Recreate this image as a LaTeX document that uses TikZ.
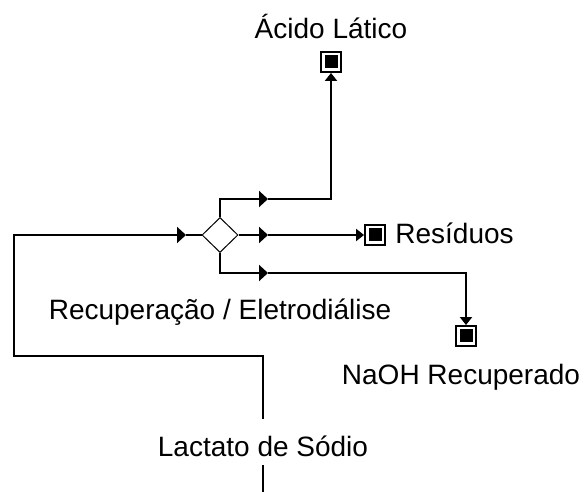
\documentclass[tikz,border=0pt]{standalone}
\usepackage{fontspec}
\setmainfont{Liberation Sans}
\usetikzlibrary{shapes.geometric,arrows.meta}
\begin{document}
\begin{tikzpicture}[
	x=0.5pt, y=-0.5pt,
	font=\fontsize{14pt}{16pt}\selectfont,
	stream/.style={ line width=1pt },
	midtip/.style={ stream, -{Triangle[length=4.5pt,width=8pt]} },
	endtip/.style={ stream, shorten >=1.6pt, -{Triangle[length=4pt,width=6pt]} },
	mixer/.style={ diamond, draw, line width=0.5pt, inner sep=0pt, minimum width=18pt, minimum height=17.5pt },
	sink/.style={ rectangle, draw, fill, line width=1pt, double=white, double distance=1.25pt, inner sep=0pt, outer sep=0pt, minimum size=7.75pt }
]
\useasboundingbox (0,0) rectangle (585,492);

\node at (220,235) (mix) [mixer] {};
\node at (331,62) (acid) [sink] {};
\node at (331,39) (acidlabel) [anchor=base] {Ácido Lático};
\node at (375,235) (waste) [sink] {};
\node at (395,244) (wastelabel) [anchor=base west, inner sep=0pt] {Resíduos};
\node at (466,336) (naoh) [sink] {};
\node at (461,385) (naohlabel) [anchor=base] {NaOH Recuperado};
\node at (220,320) (unitlabel) [anchor=base] {Recuperação / Eletrodiálise};
\node at (263,457) (feedlabel) [anchor=base, inner sep=0pt, text height=19pt, text depth=4pt] {Lactato de Sódio};

\coordinate (feed) at (263,492);
\coordinate (loop) at (14,356);
\coordinate (inlet) at (186,235);
\coordinate (top) at (268,199);
\coordinate (mid) at (268,235);
\coordinate (bot) at (268,273);

\draw[stream] (feed) to (feedlabel.south);
\draw[midtip] (feedlabel.north) |- (loop) |- (inlet);
\draw[stream] (inlet) to (mix.west);
\draw[midtip] (mix.north) |- (top);
\draw[endtip] (top) -| (acid.south);
\draw[midtip] (mix.east) to (mid);
\draw[endtip] (mid) to (waste.west);
\draw[midtip] (mix.south) |- (bot);
\draw[endtip] (bot) -| (naoh.north);

\end{tikzpicture}
\end{document}
